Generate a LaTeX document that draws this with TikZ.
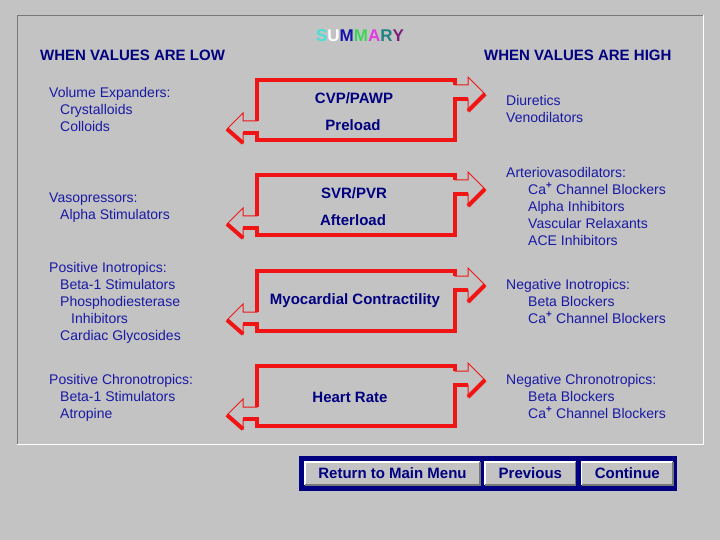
\documentclass[tikz,border=0pt]{standalone}
\usepackage{fontspec}
\setmainfont{Liberation Sans}
\usetikzlibrary{positioning}

\definecolor{panelgray}{RGB}{195,195,195}
\definecolor{shadegray}{RGB}{120,120,120}
\definecolor{listblue}{RGB}{25,25,165}
\definecolor{navyblue}{RGB}{0,0,128}
\definecolor{arrowred}{RGB}{240,20,20}
\definecolor{sumcyan}{RGB}{70,225,215}
\definecolor{sumblue}{RGB}{20,20,170}
\definecolor{sumgreen}{RGB}{60,215,90}
\definecolor{summagenta}{RGB}{225,60,225}
\definecolor{sumteal}{RGB}{30,130,130}
\definecolor{sumpurple}{RGB}{125,30,125}

\tikzset{
	listtext/.style={anchor=base west, align=left, inner sep=0, text=listblue, font=\fontsize{14}{17}\selectfont},
	centertext/.style={text=navyblue, font=\bfseries\fontsize{15}{18}\selectfont},
	headtext/.style={anchor=west, inner sep=0, text=navyblue, font=\bfseries\fontsize{15}{18}\selectfont},
	btn/.style={fill=panelgray, minimum height=23, inner sep=0, text=navyblue, font=\bfseries\fontsize{15}{18}\selectfont},
	redthin/.style={draw=arrowred, line width=1},
	redthick/.style={draw=arrowred, line width=4},
}

\newcommand{\Caplus}{Ca\textsuperscript{\textbf{+}}}

\begin{document}
\begin{tikzpicture}[x=1pt, y=-1pt]
	\fill[panelgray] (0, 0) rectangle (720, 540);
	\useasboundingbox (0, 0) rectangle (720, 540);

	\draw[shadegray] (17, 444) to (17, 15) to (703, 15);
	\draw[white] (703, 15) to (703, 444) to (17, 444);

	\node[font=\bfseries\fontsize{17}{20}\selectfont] (title) at(360, 36){\textcolor{sumcyan}{S}\textcolor{white}{U}\textcolor{sumblue}{M}\textcolor{sumgreen}{M}\textcolor{summagenta}{A}\textcolor{sumteal}{R}\textcolor{sumpurple}{Y}};
	\node[headtext] (lowhead) at(40, 55){WHEN VALUES ARE LOW};
	\node[headtext] (highhead) at(484, 55){WHEN VALUES ARE HIGH};

	\foreach \yt in {80, 175, 271, 366}{
		\begin{scope}[shift={(0, \yt)}]
			\draw[redthin] (257, 0) -- (455, 0) -- (455, 5) -- (468, 5) -- (468, -3) -- (485, 14) -- (468, 31) -- (468, 19) -- (455, 19) -- (455, 60) -- (257, 60) -- (257, 53) -- (243, 53) -- (243, 63) -- (227, 49) -- (243, 33) -- (243, 41) -- (257, 41) -- cycle;
			\draw[redthick] (257, 41) -- (257, 0) -- (455, 0) -- (455, 5);
			\draw[redthick] (468, 19) -- (455, 19) -- (455, 60) -- (257, 60) -- (257, 53) -- (243, 53);
			\draw[redthick] (485, 14) -- (468, 31);
			\draw[redthick] (227, 49) -- (243, 63);
		\end{scope}
	}

	\node[centertext] (cvp) at(354, 98){CVP/PAWP};
	\node[centertext] (preload) at(353, 125){Preload};
	\node[centertext] (svr) at(354, 193){SVR/PVR};
	\node[centertext] (afterload) at(353, 220){Afterload};
	\node[centertext] (contract) at(355, 301){Myocardial Contractility};
	\node[centertext] (rate) at(350, 397){Heart Rate};

	\node[listtext] (expanders) at(49, 132){Volume Expanders:\\\hspace*{11pt}Crystalloids\\\hspace*{11pt}Colloids};
	\node[listtext] (pressors) at(49, 219){Vasopressors:\\\hspace*{11pt}Alpha Stimulators};
	\node[listtext] (posino) at(49, 340){Positive Inotropics:\\\hspace*{11pt}Beta-1 Stimulators\\\hspace*{11pt}Phosphodiesterase\\\hspace*{22pt}Inhibitors\\\hspace*{11pt}Cardiac Glycosides};
	\node[listtext] (poschrono) at(49, 418){Positive Chronotropics:\\\hspace*{11pt}Beta-1 Stimulators\\\hspace*{11pt}Atropine};

	\node[listtext] (diuretics) at(506, 123){Diuretics\\Venodilators};
	\node[listtext] (arterio) at(506, 245){Arteriovasodilators:\\\hspace*{22pt}\Caplus{} Channel Blockers\\\hspace*{22pt}Alpha Inhibitors\\\hspace*{22pt}Vascular Relaxants\\\hspace*{22pt}ACE Inhibitors};
	\node[listtext] (negino) at(506, 323){Negative Inotropics:\\\hspace*{22pt}Beta Blockers\\\hspace*{22pt}\Caplus{} Channel Blockers};
	\node[listtext] (negchrono) at(506, 418){Negative Chronotropics:\\\hspace*{22pt}Beta Blockers\\\hspace*{22pt}\Caplus{} Channel Blockers};

	\fill[navyblue] (299, 456) rectangle (677, 491);
	\node[btn, minimum width=175] (mainmenu) at(392.5, 473.5){Return to Main Menu};
	\node[btn, minimum width=90, right=5pt of mainmenu] (previous){Previous};
	\node[btn, minimum width=91, right=6pt of previous] (continue){Continue};
	\foreach \b in {mainmenu, previous, continue}{
		\draw[white, line width=1.5] (\b.south west) -- (\b.north west) -- (\b.north east);
		\draw[shadegray, line width=1.5] (\b.north east) -- (\b.south east) -- (\b.south west);
	}
\end{tikzpicture}
\end{document}
